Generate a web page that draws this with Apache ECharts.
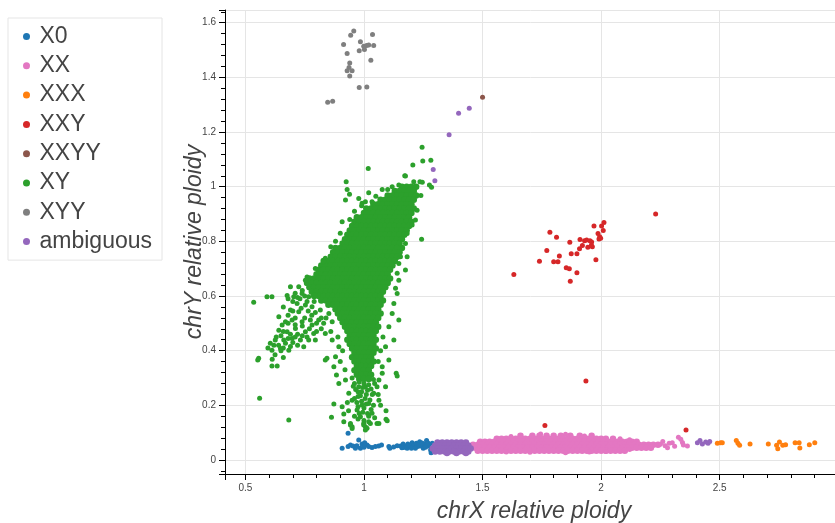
<!DOCTYPE html>
<html><head><meta charset="utf-8">
<script src="https://cdn.jsdelivr.net/npm/echarts@6/dist/echarts.min.js"></script>
<style>html,body{margin:0;padding:0;background:#fff}#c{width:835px;height:523px}</style>
</head><body><div id="c"></div>
<script>
// ---- categories / legend ----
const categories = ['X0','XX','XXX','XXY','XXYY','XY','XYY','ambiguous'];
const xTickValues = [0.5, 1, 1.5, 2, 2.5, 3];
const yTickValues = [0, 0.2, 0.4, 0.6, 0.8, 1, 1.2, 1.4, 1.6];

// ---- X0 ----
const x0Points = [[0.908,0.043],[0.933,0.049],[0.943,0.055],[0.954,0.051],[0.964,0.043],[0.978,0.073],[0.985,0.043],[0.992,0.059],[1.003,0.063],[1.013,0.055],[1.020,0.049],[1.034,0.046],[1.048,0.049],[1.062,0.051],[1.074,0.055],[1.105,0.049],[1.109,0.043],[1.154,0.051],[1.165,0.059],[1.175,0.051],[1.185,0.059],[1.196,0.049],[1.203,0.063],[1.210,0.055],[1.221,0.061],[1.227,0.049],[1.235,0.067],[1.241,0.051],[1.250,0.043],[1.255,0.059],[1.264,0.071],[1.274,0.051],[1.281,0.037],[1.288,0.061],[1.283,0.027],[1.168,0.046],[1.182,0.043],[1.217,0.043],[0.933,0.098],[1.16,0.045],[1.19,0.053],[1.23,0.056],[1.26,0.047],[1.27,0.062],[1.245,0.062],[1.20,0.043],[1.14,0.052],[1.125,0.048],[1.00,0.047],[0.97,0.052]];

// ---- XX (dense band rows: [y, xs]) + tail ----
const xxRows = [
 [0.089,[1.66,1.71,1.74,1.77,1.80,1.83,1.87,1.91,1.96]],
 [0.078,[1.56,1.58,1.60,1.62,1.64,1.66,1.68,1.70,1.72,1.74,1.76,1.78,1.80,1.82,1.84,1.86,1.88,1.90,1.92,1.94,1.96,1.98,2.00,2.02,2.05]],
 [0.067,[1.49,1.51,1.53,1.55,1.57,1.59,1.61,1.63,1.65,1.67,1.69,1.71,1.73,1.75,1.77,1.79,1.81,1.83,1.85,1.87,1.89,1.91,1.93,1.95,1.97,1.99,2.01,2.03,2.05,2.07,2.09,2.11,2.13,2.15]],
 [0.056,[1.46,1.48,1.50,1.52,1.54,1.56,1.58,1.60,1.62,1.64,1.66,1.68,1.70,1.72,1.74,1.76,1.78,1.80,1.82,1.84,1.86,1.88,1.90,1.92,1.94,1.96,1.98,2.00,2.02,2.04,2.06,2.08,2.10,2.12,2.14,2.16,2.18,2.20,2.22,2.24]],
 [0.045,[1.47,1.49,1.51,1.53,1.55,1.57,1.59,1.61,1.63,1.65,1.67,1.69,1.71,1.73,1.75,1.77,1.79,1.81,1.83,1.85,1.87,1.89,1.91,1.93,1.95,1.97,1.99,2.01,2.03,2.05,2.07,2.09,2.11,2.13,2.15,2.17,2.19,2.21]],
 [0.034,[1.48,1.50,1.52,1.54,1.56,1.58,1.60,1.62,1.64,1.66,1.68,1.70,1.72,1.74,1.76,1.78,1.80,1.82,1.84,1.86,1.88,1.90,1.92,1.94,1.96,1.98,2.00,2.02,2.04,2.06,2.08,2.10]]
];
const xxPoints = [[2.25,0.058],[2.27,0.052],[2.287,0.061],[2.30,0.063],[2.326,0.083],[2.336,0.076],[2.343,0.064],[2.347,0.055],[2.364,0.051],[2.28,0.045],[2.26,0.068],[2.31,0.050],[1.745,0.095],[1.62,0.086],[1.85,0.094],[1.93,0.088],[2.08,0.078],[2.12,0.074],[1.70,0.028],[1.85,0.027],[1.95,0.029],[2.02,0.031],[1.60,0.029],[2.12,0.038]];

// ---- XXX ----
const xxxPoints = [[2.490,0.061],[2.504,0.063],[2.511,0.063],[2.570,0.071],[2.577,0.061],[2.584,0.054],[2.628,0.059],[2.705,0.059],[2.740,0.054],[2.745,0.041],[2.752,0.066],[2.766,0.054],[2.778,0.056],[2.818,0.063],[2.835,0.063],[2.838,0.044],[2.878,0.056],[2.901,0.063]];

// ---- XXY ----
const xxyPoints = [[2.230,0.900],[2.012,0.869],[2.002,0.856],[2.009,0.840],[1.970,0.856],[1.987,0.829],[1.994,0.817],[1.998,0.811],[1.991,0.809],[1.784,0.833],[1.812,0.815],[1.868,0.797],[1.911,0.807],[1.930,0.802],[1.939,0.805],[1.953,0.802],[1.960,0.798],[1.921,0.785],[1.909,0.773],[1.944,0.778],[1.963,0.780],[1.959,0.786],[1.771,0.767],[1.824,0.746],[1.874,0.755],[1.898,0.755],[1.978,0.733],[1.740,0.727],[1.800,0.725],[1.818,0.725],[1.853,0.703],[1.866,0.700],[1.898,0.685],[1.632,0.679],[1.870,0.654],[1.936,0.289],[1.763,0.126],[2.358,0.110]];

// ---- XXYY ----
const xxyyPoints = [[1.500,1.327]];

// ---- XY (dense core rows: [y, xs]) + scattered ----
const xyRows = [
 [1.000,[1.16,1.18,1.20,1.22]],
 [0.984,[1.13,1.15,1.17,1.19,1.21]],
 [0.968,[1.10,1.12,1.14,1.16,1.18,1.20,1.22]],
 [0.952,[1.07,1.09,1.11,1.13,1.15,1.17,1.19,1.21]],
 [0.936,[1.04,1.06,1.08,1.10,1.12,1.14,1.16,1.18,1.20]],
 [0.920,[1.01,1.03,1.05,1.07,1.09,1.11,1.13,1.15,1.17,1.19,1.21]],
 [0.904,[1.00,1.02,1.04,1.06,1.08,1.10,1.12,1.14,1.16,1.18,1.20]],
 [0.888,[0.97,0.99,1.01,1.03,1.05,1.07,1.09,1.11,1.13,1.15,1.17,1.19]],
 [0.872,[0.96,0.98,1.00,1.02,1.04,1.06,1.08,1.10,1.12,1.14,1.16,1.18,1.20]],
 [0.856,[0.95,0.97,0.99,1.01,1.03,1.05,1.07,1.09,1.11,1.13,1.15,1.17,1.19]],
 [0.840,[0.94,0.96,0.98,1.00,1.02,1.04,1.06,1.08,1.10,1.12,1.14,1.16,1.18]],
 [0.824,[0.93,0.95,0.97,0.99,1.01,1.03,1.05,1.07,1.09,1.11,1.13,1.15,1.17]],
 [0.808,[0.92,0.94,0.96,0.98,1.00,1.02,1.04,1.06,1.08,1.10,1.12,1.14,1.16]],
 [0.792,[0.91,0.93,0.95,0.97,0.99,1.01,1.03,1.05,1.07,1.09,1.11,1.13,1.15]],
 [0.776,[0.88,0.90,0.92,0.94,0.96,0.98,1.00,1.02,1.04,1.06,1.08,1.10,1.12,1.14,1.16]],
 [0.760,[0.87,0.89,0.91,0.93,0.95,0.97,0.99,1.01,1.03,1.05,1.07,1.09,1.11,1.13,1.15]],
 [0.744,[0.86,0.88,0.90,0.92,0.94,0.96,0.98,1.00,1.02,1.04,1.06,1.08,1.10,1.12,1.14]],
 [0.728,[0.83,0.85,0.87,0.89,0.91,0.93,0.95,0.97,0.99,1.01,1.03,1.05,1.07,1.09,1.11,1.13]],
 [0.712,[0.82,0.84,0.86,0.88,0.90,0.92,0.94,0.96,0.98,1.00,1.02,1.04,1.06,1.08,1.10,1.12]],
 [0.696,[0.81,0.83,0.85,0.87,0.89,0.91,0.93,0.95,0.97,0.99,1.01,1.03,1.05,1.07,1.09,1.11]],
 [0.680,[0.80,0.82,0.84,0.86,0.88,0.90,0.92,0.94,0.96,0.98,1.00,1.02,1.04,1.06,1.08,1.10]],
 [0.664,[0.77,0.79,0.81,0.83,0.85,0.87,0.89,0.91,0.93,0.95,0.97,0.99,1.01,1.03,1.05,1.07,1.09,1.11]],
 [0.648,[0.76,0.78,0.80,0.82,0.84,0.86,0.88,0.90,0.92,0.94,0.96,0.98,1.00,1.02,1.04,1.06,1.08,1.10]],
 [0.632,[0.77,0.79,0.81,0.83,0.85,0.87,0.89,0.91,0.93,0.95,0.97,0.99,1.01,1.03,1.05,1.07,1.09]],
 [0.616,[0.78,0.80,0.82,0.84,0.86,0.88,0.90,0.92,0.94,0.96,0.98,1.00,1.02,1.04,1.06,1.08]],
 [0.600,[0.79,0.81,0.83,0.85,0.87,0.89,0.91,0.93,0.95,0.97,0.99,1.01,1.03,1.05,1.07]],
 [0.584,[0.82,0.84,0.86,0.88,0.90,0.92,0.94,0.96,0.98,1.00,1.02,1.04,1.06,1.08]],
 [0.568,[0.85,0.87,0.89,0.91,0.93,0.95,0.97,0.99,1.01,1.03,1.05,1.07]],
 [0.552,[0.88,0.90,0.92,0.94,0.96,0.98,1.00,1.02,1.04,1.06]],
 [0.536,[0.89,0.91,0.93,0.95,0.97,0.99,1.01,1.03,1.05,1.07]],
 [0.520,[0.90,0.92,0.94,0.96,0.98,1.00,1.02,1.04,1.06]],
 [0.504,[0.91,0.93,0.95,0.97,0.99,1.01,1.03,1.05]],
 [0.488,[0.92,0.94,0.96,0.98,1.00,1.02,1.04,1.06]],
 [0.472,[0.93,0.95,0.97,0.99,1.01,1.03,1.05]],
 [0.456,[0.94,0.96,0.98,1.00,1.02,1.04]],
 [0.440,[0.93,0.95,0.97,0.99,1.01,1.03,1.05]],
 [0.424,[0.94,0.96,0.98,1.00,1.02,1.04]],
 [0.408,[0.95,0.97,0.99,1.01,1.03,1.05]],
 [0.392,[0.96,0.98,1.00,1.02,1.04]],
 [0.376,[0.95,0.97,0.99,1.01,1.03]],
 [0.360,[0.96,0.98,1.00,1.02,1.04]],
 [0.344,[0.97,0.99,1.01,1.03]],
 [0.328,[0.96,0.98,1.00,1.02]],
 [0.312,[0.97,0.99,1.01,1.03]],
 [0.296,[0.98,1.00,1.02]]
];
const xyPoints = [[1.245,1.144],[1.282,1.097],[1.248,1.094],[1.206,1.079],[1.018,1.067],[1.172,1.040],[1.175,1.039],[0.925,1.018],[1.236,1.018],[1.210,1.018],[1.246,1.016],[1.276,1.006],[1.285,0.998],[1.147,1.006],[1.119,1.000],[0.929,0.990],[1.077,0.990],[1.020,0.978],[0.939,0.972],[1.240,0.968],[0.978,0.957],[0.922,0.951],[0.992,0.939],[1.006,0.945],[1.034,0.945],[0.908,0.872],[1.224,0.914],[1.217,0.878],[1.203,0.860],[1.182,0.829],[1.243,0.808],[1.175,0.792],[1.154,0.744],[1.147,0.719],[1.182,0.744],[1.175,0.695],[1.140,0.683],[1.147,0.658],[1.133,0.628],[1.140,0.609],[1.126,0.573],[1.119,0.536],[1.147,0.512],[1.105,0.488],[1.126,0.439],[1.091,0.414],[1.105,0.366],[1.077,0.341],[1.063,0.293],[1.136,0.317],[1.140,0.307],[1.077,0.317],
[0.837,0.738],[0.830,0.725],[0.795,0.701],[0.760,0.670],[0.88,0.80],[0.86,0.78],[0.90,0.83],[0.94,0.88],[0.96,0.91],[0.99,0.93],[1.05,0.965],[1.10,0.99],
[0.753,0.658],[0.725,0.634],[0.704,0.597],[0.739,0.609],[0.767,0.597],[0.795,0.603],[0.718,0.573],[0.753,0.567],[0.781,0.561],[0.816,0.549],[0.690,0.549],[0.725,0.542],[0.669,0.506],[0.697,0.512],[0.739,0.506],[0.774,0.512],[0.641,0.475],[0.676,0.469],[0.711,0.481],[0.753,0.469],[0.788,0.463],[0.830,0.500],[0.626,0.439],[0.662,0.439],[0.697,0.445],[0.732,0.439],[0.767,0.439],[0.612,0.402],[0.648,0.408],[0.683,0.402],[0.746,0.414],[0.795,0.439],[0.837,0.366],[0.844,0.372],[0.880,0.378],[0.873,0.341],[0.612,0.344],[0.634,0.344],[0.613,0.369],[0.556,0.372],[0.552,0.366],[0.560,0.226],[0.683,0.146],[0.535,0.577],[0.591,0.597],[0.612,0.597],[0.676,0.602],[0.690,0.634],[0.641,0.524],[0.655,0.494],[0.605,0.427],[0.669,0.427],[0.781,0.494],[0.809,0.512],[0.852,0.536],[0.866,0.506],[0.837,0.463],[0.866,0.439],[0.894,0.414],
[0.70,0.58],[0.73,0.59],[0.76,0.58],[0.79,0.58],[0.71,0.52],[0.68,0.53],[0.66,0.47],[0.69,0.46],[0.72,0.46],[0.64,0.42],[0.63,0.45],[0.66,0.41],[0.70,0.43],[0.72,0.42],[0.76,0.45],[0.80,0.47],[0.82,0.52],[0.75,0.52],[0.78,0.53],
[0.74,0.62],[0.71,0.61],[0.68,0.59],[0.72,0.595],[0.75,0.60],[0.66,0.56],[0.70,0.545],[0.735,0.555],[0.765,0.545],[0.795,0.54],[0.68,0.50],[0.71,0.495],[0.74,0.49],[0.77,0.48],[0.65,0.455],[0.68,0.445],[0.71,0.45],[0.74,0.455],[0.62,0.42],[0.65,0.40],[0.69,0.415],[0.625,0.385],[0.66,0.375],[0.595,0.41],[0.80,0.50],[0.84,0.52],[0.82,0.48],[0.86,0.47],
[0.908,0.195],[0.915,0.168],[0.863,0.156],[0.873,0.205],[0.936,0.244],[0.950,0.219],[0.971,0.183],[0.985,0.158],[0.999,0.134],[1.006,0.122],[1.020,0.140],[1.034,0.171],[1.055,0.134],[1.093,0.149],[1.093,0.180],[1.063,0.219],[1.041,0.244],[1.020,0.207],[0.992,0.201],[0.975,0.232],[0.943,0.134],[0.950,0.122],[0.922,0.293],[0.894,0.280],[0.884,0.311],[1.091,0.268],[1.055,0.268],[1.006,0.268],[0.978,0.268],[0.965,0.258],[0.99,0.25],[1.01,0.24],[1.03,0.26],[1.045,0.28],[0.96,0.28],[0.98,0.285],[1.00,0.28],[1.02,0.275],[1.04,0.295],[0.95,0.30],[0.97,0.21],[1.00,0.19],[1.015,0.17],[0.98,0.17],[1.04,0.20],[0.96,0.16],
[0.955,0.27],[0.975,0.25],[0.995,0.265],[1.015,0.255],[1.035,0.24],[0.985,0.235],[1.005,0.225],[1.025,0.22],[0.96,0.225],[0.99,0.215],[1.01,0.205],[0.975,0.195],[1.03,0.185],[0.995,0.175],[1.02,0.16],[0.975,0.15],[1.00,0.145],[1.045,0.155],[0.935,0.18],[0.93,0.21],[1.06,0.24],[1.07,0.20],
[0.915,0.140],[0.943,0.128],[0.950,0.115],[0.999,0.128],[1.006,0.110],[1.013,0.116],[1.027,0.134],[1.063,0.134],[1.098,0.144],
[0.90,0.36],[0.91,0.40],[0.92,0.33],[0.89,0.45],[1.07,0.40],[1.08,0.45],[1.06,0.36]];

// ---- XYY ----
const xyyPoints = [[0.957,1.570],[0.944,1.554],[1.036,1.557],[0.914,1.520],[0.985,1.530],[0.999,1.514],[1.011,1.517],[1.020,1.518],[1.041,1.517],[1.002,1.502],[0.980,1.497],[0.929,1.487],[1.029,1.463],[0.940,1.453],[0.937,1.436],[0.929,1.424],[0.950,1.424],[0.940,1.405],[0.980,1.363],[1.012,1.365],[0.847,1.309],[0.868,1.313]];

// ---- ambiguous ----
const ambiguousRows = [
 [0.064,[1.31,1.33,1.35,1.37,1.39,1.41,1.43]],
 [0.053,[1.30,1.32,1.34,1.36,1.38,1.40,1.42,1.44]],
 [0.042,[1.29,1.31,1.33,1.35,1.37,1.39,1.41,1.43,1.45]],
 [0.031,[1.30,1.32,1.34,1.36,1.38,1.40,1.42,1.44]],
 [0.026,[1.35,1.39,1.43]]
];
const ambiguousPoints = [[1.292,1.063],[1.299,1.022],[1.359,1.190],[1.399,1.269],[1.444,1.287],[2.406,0.063],[2.417,0.071],[2.427,0.059],[2.441,0.066],[2.451,0.061],[2.458,0.068]];

// ---- build ----
function rowsToPoints(rows){ const out=[]; rows.forEach(r=>r[1].forEach(x=>out.push([x,r[0]]))); return out; }
const scatterByCat = {
  'X0': x0Points, 'XX': xxPoints, 'XXX': xxxPoints, 'XXY': xxyPoints,
  'XXYY': xxyyPoints, 'XY': xyPoints, 'XYY': xyyPoints, 'ambiguous': ambiguousPoints
};
const coreByCat = {'XX': rowsToPoints(xxRows), 'XY': rowsToPoints(xyRows), 'ambiguous': rowsToPoints(ambiguousRows)};
const palette = ['#1f77b4','#e377c2','#ff7f0e','#d62728','#8c564b','#2ca02c','#7f7f7f','#9467bd'];
const FONT = '"Liberation Sans", Arial, Helvetica, sans-serif';

const series = [];
categories.forEach((c, i) => {
  if (coreByCat[c]) {
    series.push({name: c, type: 'scatter', data: coreByCat[c], symbol: 'circle', symbolSize: 6.5,
      itemStyle: {color: palette[i], opacity: 1}, emphasis: {disabled: true}, z: 2 + i});
  }
  series.push({name: c, type: 'scatter', data: scatterByCat[c], symbol: 'circle', symbolSize: 5,
    itemStyle: {color: palette[i], opacity: 1}, emphasis: {disabled: true}, z: 2 + i});
});

const chart = echarts.init(document.getElementById('c'), null, {renderer:'canvas'});
chart.setOption({
  animation: false,
  backgroundColor: '#fff',
  textStyle: {fontFamily: FONT},
  grid: {left: 225, top: 10, right: -8, bottom: 49, containLabel: false, outerBoundsMode: 'none'},
  legend: {
    data: categories, orient: 'vertical', left: 8, top: 18,
    padding: [7, 10, 7, 15], itemGap: 6.3, itemWidth: 16, itemHeight: 7,
    icon: 'circle', borderColor: '#e5e5e5', borderWidth: 1, selectedMode: false,
    textStyle: {fontSize: 23, lineHeight: 23, color: '#444', fontFamily: FONT}
  },
  xAxis: {
    type: 'value', min: 0.414, max: 3.02, splitNumber: 5,
    name: 'chrX relative ploidy', nameLocation: 'middle', nameGap: 26, nameMoveOverlap: false,
    nameTextStyle: {fontStyle: 'italic', fontSize: 23, color: '#444', fontFamily: FONT},
    axisLine: {show: true, onZero: false, lineStyle: {color: '#000', width: 1}},
    axisTick: {show: true, length: 6, lineStyle: {color: '#000'}},
    minorTick: {show: true, splitNumber: 5, length: 4, lineStyle: {color: '#000'}},
    axisLabel: {color: '#444', fontSize: 10, margin: 9, showMinLabel: true, showMaxLabel: true, hideOverlap: false,
      formatter: v => xTickValues.indexOf(Math.round(v*1000)/1000) >= 0 ? String(Math.round(v*10)/10) : ''},
    splitLine: {show: true, lineStyle: {color: '#e5e5e5', width: 1}}
  },
  yAxis: {
    type: 'value', min: -0.0512, max: 1.6465, splitNumber: 8,
    name: 'chrY relative ploidy', nameLocation: 'middle', nameGap: 19, nameMoveOverlap: false,
    nameTextStyle: {fontStyle: 'italic', fontSize: 23, color: '#444', fontFamily: FONT},
    axisLine: {show: true, onZero: false, lineStyle: {color: '#000', width: 1}},
    axisTick: {show: true, length: 6, lineStyle: {color: '#000'}},
    minorTick: {show: true, splitNumber: 5, length: 4, lineStyle: {color: '#000'}},
    axisLabel: {color: '#444', fontSize: 10, margin: 9, showMinLabel: true, showMaxLabel: true,
      formatter: v => yTickValues.indexOf(Math.round(v*1000)/1000) >= 0 ? String(Math.round(v*10)/10) : ''},
    splitLine: {show: true, lineStyle: {color: '#e5e5e5', width: 1}}
  },
  series: series
});
</script></body></html>
